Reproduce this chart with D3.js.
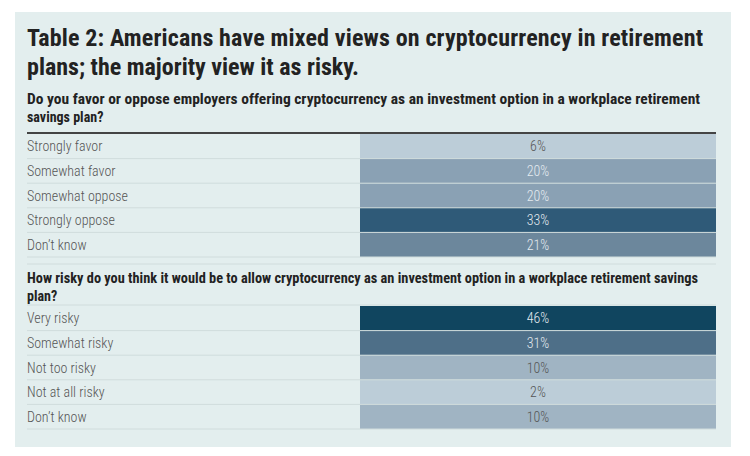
<!DOCTYPE html>
<html><head><meta charset="utf-8">
<script src="https://cdn.jsdelivr.net/npm/d3@7"></script>
<style>body{margin:0;background:#fff}svg{display:block}</style>
</head><body>
<svg id="c" width="750" height="456"></svg>
<script>
const title = ["Table 2:  Americans have mixed views on cryptocurrency in retirement", "plans; the majority view it as risky."];
const q1 = ["Do you favor or oppose employers offering cryptocurrency as an investment option in a workplace retirement", "savings plan?"];
const q1Categories = ["Strongly favor", "Somewhat favor", "Somewhat oppose", "Strongly oppose", "Don\u2019t know"];
const q1Values = [6, 20, 20, 33, 21];
const q2 = ["How risky do you think it would be to allow cryptocurrency as an investment option in a workplace retirement savings", "plan?"];
const q2Categories = ["Very risky", "Somewhat risky", "Not too risky", "Not at all risky", "Don\u2019t know"];
const q2Values = [46, 31, 10, 2, 10];

const color = d3.scaleLinear()
  .domain([2, 6, 10, 20, 21, 31, 33, 46])
  .range(["#bccdd8", "#bccdd8", "#a0b4c3", "#8aa1b4", "#6c879c", "#4e6f88", "#2f5a78", "#10455f"]);
const textColor = v => v >= 15 ? "#e4ebf0" : "#555";

const svg = d3.select("#c");
const font = "'Roboto Condensed','Liberation Sans Narrow','Roboto',sans-serif";
svg.append("rect").attr("x", 15).attr("y", 12).attr("width", 716).attr("height", 435).attr("fill", "#e3eeee");

svg.selectAll(".t").data(title).join("text")
  .attr("x", 27).attr("y", (d, i) => 46 + i * 29)
  .attr("font-family", font).attr("font-size", 24).attr("font-weight", "bold").attr("fill", "#222")
  .attr("textLength", (d, i) => i === 0 ? 676 : null).attr("lengthAdjust", "spacing")
  .text(d => d);

const x = d3.scaleLinear().domain([0, 1]).range([27, 716]);
const barX0 = 360;

function block(qText, qY, cats, vals, top, len) {
  svg.append("g").selectAll("text").data(qText).join("text")
    .attr("x", 27).attr("y", (d, i) => qY + i * 18)
    .attr("font-family", font).attr("font-size", 14).attr("font-weight", "bold").attr("fill", "#222")
    .attr("textLength", (d, i) => i === 0 ? len : null).attr("lengthAdjust", "spacingAndGlyphs")
    .text(d => d);
  const y = d3.scaleBand().domain(cats).range([top, top + cats.length * 24.6]);
  const g = svg.append("g");
  g.selectAll("rect").data(cats).join("rect")
    .attr("x", barX0).attr("y", d => y(d)).attr("width", x(1) - barX0).attr("height", y.bandwidth())
    .attr("fill", (d, i) => color(vals[i]));
  g.selectAll("line.sep").data(cats).join("line")
    .attr("x1", x(0)).attr("x2", x(1))
    .attr("y1", d => y(d) + y.bandwidth()).attr("y2", d => y(d) + y.bandwidth())
    .attr("stroke", "#d0dcdc").attr("stroke-width", 1);
  g.selectAll("text.lab").data(cats).join("text")
    .attr("x", 27).attr("y", d => y(d) + y.bandwidth() / 2 + 5)
    .attr("font-family", font).attr("font-size", 14).attr("font-weight", 300).attr("fill", "#555").text(d => d);
  g.selectAll("text.val").data(vals).join("text")
    .attr("x", (barX0 + x(1)) / 2).attr("y", (d, i) => y(cats[i]) + y.bandwidth() / 2 + 5)
    .attr("text-anchor", "middle")
    .attr("font-family", font).attr("font-size", 14).attr("font-weight", 300).attr("fill", d => textColor(d)).text(d => d + "%");
  return y;
}
svg.append("line").attr("x1", 27).attr("x2", 716).attr("y1", 133).attr("y2", 133).attr("stroke", "#444").attr("stroke-width", 2);
block(q1, 104, q1Categories, q1Values, 134, 673);
svg.append("line").attr("x1", 27).attr("x2", 716).attr("y1", 264).attr("y2", 264).attr("stroke", "#d0dcdc");
svg.append("line").attr("x1", 27).attr("x2", 716).attr("y1", 305).attr("y2", 305).attr("stroke", "#d0dcdc");
block(q2, 283, q2Categories, q2Values, 306, 671);
</script>
</body></html>
